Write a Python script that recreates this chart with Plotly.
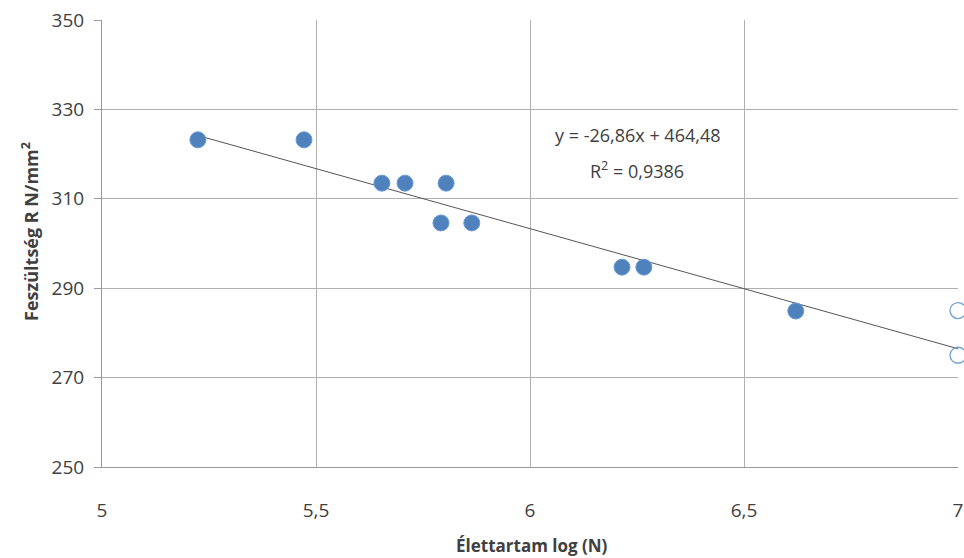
import plotly.graph_objects as go

# Data
log_n = [5.224, 5.472, 5.654, 5.708, 5.804, 5.792, 5.864, 6.215, 6.266, 6.621]
stress = [323.2, 323.2, 313.5, 313.5, 313.5, 304.6, 304.6, 294.7, 294.7, 284.9]
runout_log_n = [7.0, 7.0]
runout_stress = [285.0, 275.0]
slope = -26.86
intercept = 464.48
r2_text = "0,9386"
x_ticks = [5, 5.5, 6, 6.5, 7]
x_tick_labels = ["5", "5,5", "6", "6,5", "7"]
y_ticks = [250, 270, 290, 310, 330, 350]

font_family = "'Open Sans', 'Noto Sans', sans-serif"
text_color = "#404040"
blue = "#4f81bd"

trend_x = [min(log_n), 7.0]
trend_y = [slope * v + intercept for v in trend_x]

fig = go.Figure()
fig.add_trace(go.Scatter(x=trend_x, y=trend_y, mode="lines",
                         line=dict(color="#555555", width=1), showlegend=False,
                         hoverinfo="skip"))
fig.add_trace(go.Scatter(x=log_n, y=stress, mode="markers",
                         marker=dict(size=16, color=blue,
                                     line=dict(color="#6a9bd8", width=1)),
                         showlegend=False))
fig.add_trace(go.Scatter(x=runout_log_n, y=runout_stress, mode="markers",
                         marker=dict(size=16, color="rgba(255,255,255,0)",
                                     line=dict(color="#6fa0cf", width=1.3)),
                         showlegend=False, cliponaxis=False))

eq_text = f"y = {str(slope).replace('.', ',')}x + {str(intercept).replace('.', ',')}"
fig.add_annotation(x=6.25, y=0, xref="x", yref="paper", yanchor="middle",
                   yshift=467 - 135, text=eq_text, showarrow=False,
                   font=dict(family=font_family, size=18, color=text_color))
fig.add_annotation(x=6.25, y=0, xref="x", yref="paper", yanchor="middle",
                   yshift=467 - 170, text=f"R<sup>2</sup> = {r2_text}", showarrow=False,
                   font=dict(family=font_family, size=18, color=text_color))

# axis titles
fig.add_annotation(x=(532 - 102) / 856, y=0, xref="paper", yref="paper",
                   xanchor="center", yanchor="middle", yshift=-78,
                   text="<b>Élettartam log (N)</b>", showarrow=False,
                   font=dict(family=font_family, size=17, color=text_color))
fig.add_annotation(x=0, y=(467 - 232) / 447, xref="paper", yref="paper",
                   xanchor="center", yanchor="middle", xshift=-72, textangle=-90,
                   text="<b>Feszültség R N/mm<sup>2</sup></b>", showarrow=False,
                   font=dict(family=font_family, size=18, color=text_color))

fig.update_layout(
    width=964, height=558,
    margin=dict(l=102, r=6, t=20, b=91, autoexpand=False),
    paper_bgcolor="white", plot_bgcolor="white",
    font=dict(family=font_family, color=text_color),
    xaxis=dict(range=[5, 7], tickvals=x_ticks, ticktext=x_tick_labels,
               showgrid=True, gridcolor="#b0b0b0", gridwidth=1,
               showline=True, linecolor="#9a9a9a", linewidth=1,
               zeroline=False, ticks="", ticklabelstandoff=26, automargin=False,
               tickfont=dict(size=19, color=text_color)),
    yaxis=dict(range=[250, 350], tickvals=y_ticks,
               showgrid=True, gridcolor="#b0b0b0", gridwidth=1,
               showline=True, linecolor="#9a9a9a", linewidth=1,
               zeroline=False, ticks="outside", ticklen=7, tickcolor="#9a9a9a",
               ticklabelstandoff=6, automargin=False,
               tickfont=dict(size=19, color=text_color)),
)

fig.write_html("out.html", config={"displayModeBar": False},
               post_script="document.body.style.margin='0';document.body.style.overflow='hidden';")
